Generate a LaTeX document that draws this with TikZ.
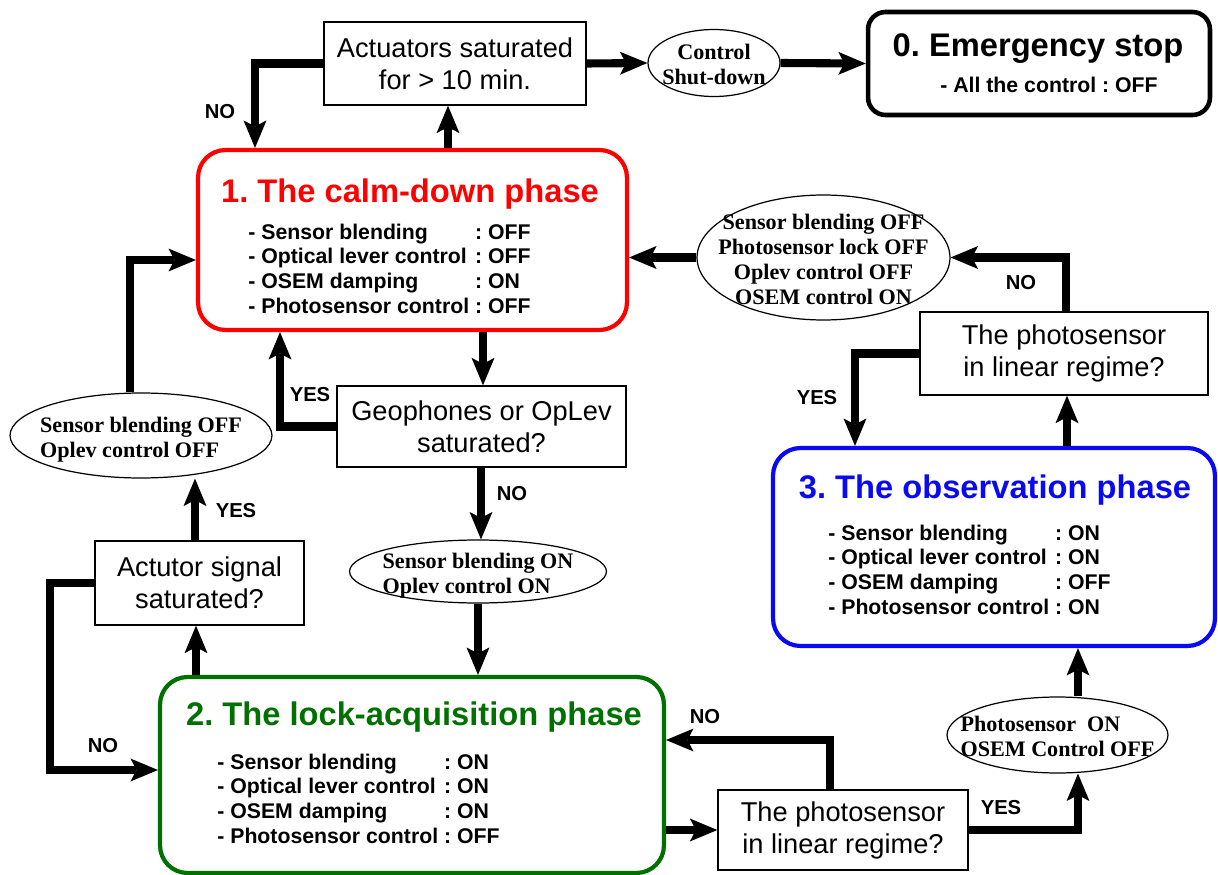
\documentclass[tikz,border=0pt]{standalone}
\usepackage{fontspec}
\setmainfont{Liberation Sans}
\newfontfamily\statefont{Liberation Serif}
\usetikzlibrary{positioning,arrows.meta,shapes.geometric}
\definecolor{calmred}{HTML}{FF0000}
\definecolor{lockgreen}{HTML}{007000}
\definecolor{obsblue}{HTML}{0A0AF0}
% text of an ellipse, kept out of the ellipse size
\newcommand{\zerobox}[2][c]{\smash{\raisebox{-5.5pt}{\makebox[0pt]{\begin{tabular}{@{}#1@{}}#2\end{tabular}}}}}
\frenchspacing

\begin{document}
\begin{tikzpicture}[
      x=0.02cm, y=-0.02cm,
      phasebox/.style={line width=2.4pt, rounded corners=0.55cm, inner sep=0pt},
      phasetitle/.style={font=\bfseries\fontsize{18.6}{22}\selectfont, inner sep=0pt, anchor=base},
      phaselist/.style={font=\bfseries\fontsize{12.1}{14.2}\selectfont, inner sep=0pt, anchor=base west},
      askbox/.style={draw, line width=0.8pt, align=center, inner sep=0pt,
                     font=\fontsize{15.5}{18.2}\selectfont},
      stateell/.style={ellipse, draw, line width=0.7pt, inner sep=0pt,
                       font=\statefont\bfseries\fontsize{12.6}{14.2}\selectfont},
      answer/.style={font=\bfseries\fontsize{11.5}{13}\selectfont, inner sep=0pt},
      link/.style={-{Stealth[length=5.5mm, width=4.6mm, inset=1.2mm, line width=0pt]}, line width=4.6pt},
    ]
      \useasboundingbox (0,0) rectangle (1218,875);

      % emergency stop
      \node[draw, phasebox, line width=2.6pt, rounded corners=0.35cm,
            minimum width=6.84cm, minimum height=2.06cm] (emerg) at (1039,63.5) {};
      \node[phasetitle] (emergtitle) at (1038,57) {0. Emergency stop};
      \node[phaselist] (emerglist) at (940,93) {- All the control : OFF};

      % 1. calm-down
      \node[draw=calmred, phasebox, minimum width=8.58cm, minimum height=3.6cm] (calm) at (412.5,240) {};
      \node[phasetitle, text=calmred] (calmtitle) at (410,202) {1. The calm-down phase};
      \node[phaselist] (calmlist) at (248,239) {\begin{tabular}[t]{@{}l@{\ }l@{}}
          - Sensor blending & : OFF\\
          - Optical lever control & : OFF\\
          - OSEM damping & : ON\\
          - Photosensor control & : OFF
        \end{tabular}};

      % 2. lock-acquisition
      \node[draw=lockgreen, phasebox, minimum width=10.08cm, minimum height=3.92cm] (lock) at (412,775) {};
      \node[phasetitle, text=lockgreen] (locktitle) at (414,725) {2. The lock-acquisition phase};
      \node[phaselist] (locklist) at (217,769) {\begin{tabular}[t]{@{}l@{\ }l@{}}
          - Sensor blending & : ON\\
          - Optical lever control & : ON\\
          - OSEM damping & : ON\\
          - Photosensor control & : OFF
        \end{tabular}};

      % 3. observation
      \node[draw=obsblue, phasebox, minimum width=8.84cm, minimum height=3.96cm] (obs) at (994,547) {};
      \node[phasetitle, text=obsblue] (obstitle) at (995,498) {3. The observation phase};
      \node[phaselist] (obslist) at (828,540) {\begin{tabular}[t]{@{}l@{\ }l@{}}
          - Sensor blending & : ON\\
          - Optical lever control & : ON\\
          - OSEM damping & : OFF\\
          - Photosensor control & : ON
        \end{tabular}};

      % questions
      \node[askbox, minimum width=5.24cm, minimum height=1.66cm] (act) at (455,63.5) {Actuators saturated\\for > 10 min.};
      \node[askbox, minimum width=5.78cm, minimum height=1.62cm] (geo) at (481.5,426.5) {Geophones or OpLev\\saturated?};
      \node[askbox, minimum width=4.18cm, minimum height=1.68cm] (actsig) at (199.5,583) {Actutor signal\\saturated?};
      \node[askbox, minimum width=5.76cm, minimum height=1.66cm] (photoA) at (1064,353.5) {The photosensor\\in linear regime?};
      \node[askbox, minimum width=5.0cm, minimum height=1.6cm] (photoB) at (843,830) {The photosensor\\in linear regime?};

      % switching states
      \node[stateell, minimum width=2.64cm, minimum height=1.34cm] (shut) at (714,63) {\zerobox{Control\\Shut-down}};
      \node[stateell, minimum width=5.06cm, minimum height=2.5cm] (offR) at (823.5,257.5)
        {\zerobox{Sensor blending OFF\\Photosensor lock OFF\\Oplev control OFF\\OSEM control ON}};
      \node[stateell, minimum width=5.24cm, minimum height=1.7cm] (offL) at (141,435.5)
        {\zerobox[l]{Sensor blending OFF\\Oplev control OFF}};
      \node[stateell, minimum width=5.14cm, minimum height=1.26cm] (onM) at (478,571.5)
        {\zerobox[l]{Sensor blending ON\\Oplev control ON}};
      \node[stateell, minimum width=4.42cm, minimum height=1.52cm] (onP) at (1057.5,735)
        {\zerobox[l]{Photosensor~ ON\\OSEM Control OFF}};

      % connectors
      \draw[link] (act.east) -- (shut.west);
      \draw[link] (shut.east) -- (emerg.west);
      \draw[link] (act.west) -| (255,0 |- calm.north);
      \draw[link] (448,0 |- calm.north) -- (448,0 |- act.south);
      \draw[link] (483,0 |- calm.south) -- (483,0 |- geo.north);
      \draw[link] (geo.west) -| (280,0 |- calm.south);
      \draw[link] (481,0 |- geo.south) -- (481,0 |- onM.north);
      \draw[link] (onM.south) -- (onM.south |- lock.north);
      \draw[link] (130,0 |- offL.north) |- (calm.west |- 0,260);
      \draw[link] (195,0 |- actsig.north) -- (195,0 |- offL.south);
      \draw[link] (196,0 |- lock.north) -- (196,0 |- actsig.south);
      \draw[link] (actsig.west) -- (50,0 |- actsig.west) |- (lock.west |- 0,770);
      \draw[link] (lock.east |- photoB.west) -- (photoB.west);
      \draw[link] (830,0 |- photoB.north) |- (lock.east |- 0,740);
      \draw[link] (photoB.east) -| (1078,0 |- onP.south);
      \draw[link] (1078,0 |- onP.north) -- (1078,0 |- obs.south);
      \draw[link] (1067,0 |- obs.north) -- (1067,0 |- photoA.south);
      \draw[link] (photoA.west) -| (855,0 |- obs.north);
      \draw[link] (1066,0 |- photoA.north) |- (offR.east);
      \draw[link] (offR.west) -- (calm.east |- offR.west);

      % answers
      \node[answer] (noact) at (220,112) {NO};
      \node[answer] (yesgeo) at (310,395) {YES};
      \node[answer] (nogeo) at (512,494) {NO};
      \node[answer] (yessig) at (236,511) {YES};
      \node[answer] (nosig) at (103,746) {NO};
      \node[answer] (nophotoA) at (1021,283) {NO};
      \node[answer] (yesphotoA) at (817,398) {YES};
      \node[answer] (nophotoB) at (705,717) {NO};
      \node[answer] (yesphotoB) at (1001,808) {YES};
    \end{tikzpicture}
\end{document}
